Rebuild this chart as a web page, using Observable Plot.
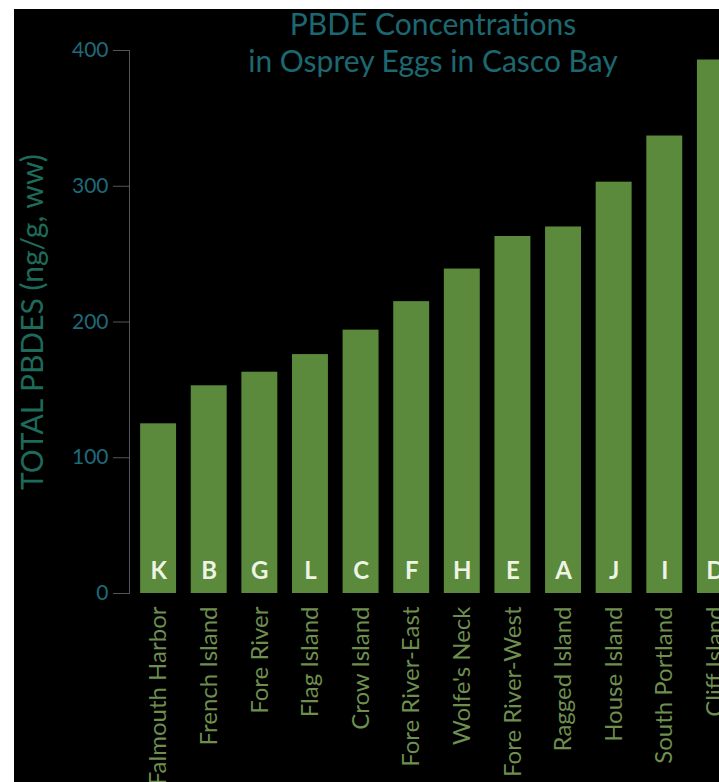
<!DOCTYPE html>
<html>
<head>
<meta charset="utf-8">
<script src="https://cdn.jsdelivr.net/npm/d3@7"></script>
<script src="https://cdn.jsdelivr.net/npm/@observablehq/plot@0.6"></script>
<style>
  html, body { margin: 0; padding: 0; background: #fff; width: 719px; height: 782px; overflow: hidden; }
  #wrap { position: absolute; left: 14px; top: 0; width: 705px; height: 782px; background: #000; overflow: hidden; font-family: Lato, sans-serif; }
  #chart { position: absolute; left: 0; top: 0; }
  #chart svg { max-width: none !important; }
  #topstrip { position: absolute; left: 0; top: 0; width: 719px; height: 9px; background: #fff; }
  .title { position: absolute; left: 0; width: 838px; text-align: center; color: #1d6870; font-size: 30px; white-space: nowrap; line-height: 1; }
  #ylab { position: absolute; left: 2px; top: 150px; height: 345px; writing-mode: vertical-rl; transform: rotate(180deg); text-align: center; color: #1d6b5a; font-size: 30px; white-space: nowrap; line-height: 1; }
</style>
</head>
<body>
<div id="wrap">
  <div id="chart"></div>
  <div class="title" id="t1" style="top:8px;">PBDE Concentrations</div>
  <div class="title" id="t2" style="top:45px;">in Osprey Eggs in Casco Bay</div>
  <div id="ylab">TOTAL PBDES (ng/g, ww)</div>
</div>
<div id="topstrip"></div>
<script>
const sites = ["Falmouth Harbor","French Island","Fore River","Flag Island","Crow Island","Fore River-East","Wolfe's Neck","Fore River-West","Ragged Island","House Island","South Portland","Cliff Island"];
const codes = ["K","B","G","L","C","F","H","E","A","J","I","D"];
const values = [125,153,163,176,194,215,239,263,270,303,337,393];
const yTicks = [0,100,200,300,400];

const data = sites.map((s, i) => ({site: s, code: codes[i], value: values[i]}));

const chart = Plot.plot({
  width: 736,
  height: 782,
  marginLeft: 115,
  marginRight: 6,
  marginTop: 50,
  marginBottom: 189,
  style: {background: "#000", fontFamily: "Lato, sans-serif", maxWidth: "none"},
  x: {domain: sites, paddingInner: 0.29, paddingOuter: 0.22, round: false},
  y: {domain: [0, 400]},
  marks: [
    Plot.frame({anchor: "left", stroke: "#555"}),
    Plot.barY(data, {x: "site", y: "value", fill: "#5b8a3c"}),
    Plot.text(data, {x: "site", y: 0, text: "code", dy: -22, fill: "#eef4e4", fontWeight: "bold", fontSize: 24}),
    Plot.axisY({ticks: yTicks, tickSize: 16, tickPadding: 5, stroke: "#555", fill: "#1e6a7a", fontSize: 21, label: null}),
    Plot.axisX({tickSize: 0, tickPadding: 13, tickRotate: -90, fill: "#6e8f4f", fontSize: 24, label: null})
  ]
});
document.getElementById("chart").appendChild(chart);
</script>
</body>
</html>
